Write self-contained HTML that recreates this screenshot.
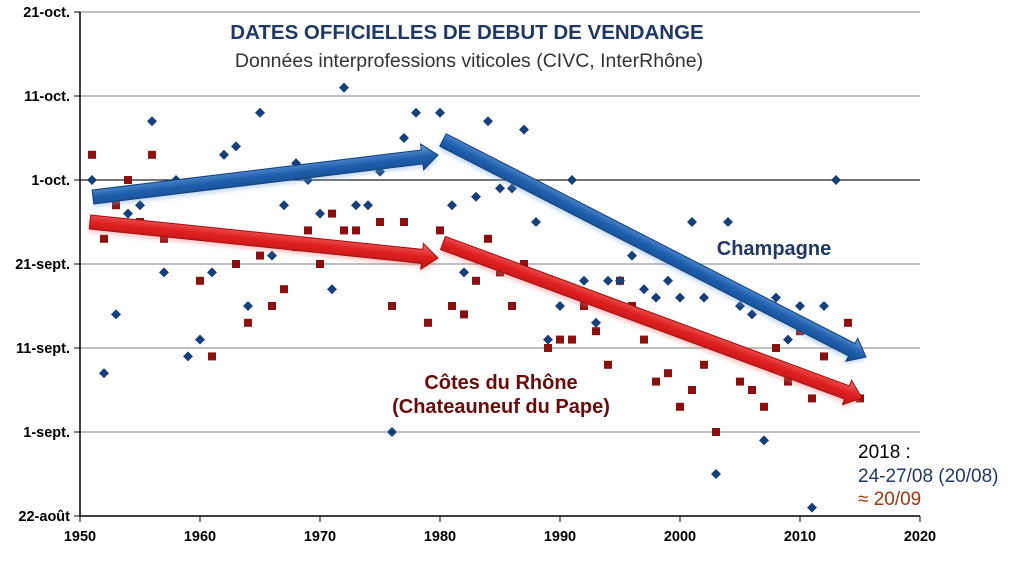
<!DOCTYPE html>
<html><head><meta charset="utf-8"><style>
body{margin:0;background:#fff;}
svg{display:block;font-family:"Liberation Sans",sans-serif;}
</style></head><body>
<svg id="chart" width="1012" height="561" viewBox="0 0 1012 561">
<defs>
<linearGradient id="gb" x1="0" y1="0" x2="0" y2="1"><stop offset="0" stop-color="#6fa3dd"/><stop offset="0.5" stop-color="#1f5fae"/><stop offset="1" stop-color="#144a8c"/></linearGradient>
<linearGradient id="gr" x1="0" y1="0" x2="0" y2="1"><stop offset="0" stop-color="#f07070"/><stop offset="0.5" stop-color="#e02020"/><stop offset="1" stop-color="#b81414"/></linearGradient>
<filter id="glow" x="-10%" y="-50%" width="120%" height="200%"><feGaussianBlur stdDeviation="2.5"/></filter>
</defs>
<g id="grid"></g>
<g id="pts"></g>
<g id="arrows"></g>
<text x="467" y="39" text-anchor="middle" font-size="20.5" font-weight="bold" fill="#1f3864">DATES OFFICIELLES DE DEBUT DE VENDANGE</text>
<text x="469" y="67" text-anchor="middle" font-size="19.5" fill="#333">Données interprofessions viticoles (CIVC, InterRhône)</text>
<text x="774" y="255" text-anchor="middle" font-size="20" font-weight="bold" fill="#1f3864">Champagne</text>
<text x="501" y="389" text-anchor="middle" font-size="20" font-weight="bold" fill="#6b0a0a">Côtes du Rhône</text>
<text x="501" y="413" text-anchor="middle" font-size="20" font-weight="bold" fill="#6b0a0a">(Chateauneuf du Pape)</text>
<text x="858" y="458" font-size="19" fill="#000">2018 :</text>
<text x="858" y="482" font-size="19" fill="#1f3864">24-27/08 (20/08)</text>
<text x="858" y="505" font-size="19" fill="#a0360e">≈ 20/09</text>
</svg>
<script>
const years=[];for(let y=1951;y<=2015;y++)years.push(y);
const champagne=[40,17,24,36,37,47,29,40,19,21,29,43,44,25,48,31,37,42,40,36,27,51,37,37,41,10,45,48,null,48,37,29,38,47,39,39,46,35,21,25,40,28,23,28,28,31,27,26,28,26,35,26,5,35,25,24,9,26,21,25,1,25,40,null,null];
const rhone=[43,33,37,40,35,43,33,null,null,28,19,null,30,23,31,25,27,32,34,30,36,34,34,null,35,25,35,null,23,34,25,24,28,33,29,25,30,null,20,21,21,25,22,18,28,25,21,16,17,13,15,18,10,null,16,15,13,20,16,22,14,19,21,23,14];
const yLabels=["22-août","1-sept.","11-sept.","21-sept.","1-oct.","11-oct.","21-oct."];
const xTicks=[1950,1960,1970,1980,1990,2000,2010,2020];
const NS="http://www.w3.org/2000/svg";
const X=v=>80+(v-1950)*12;
const Y=d=>516-d*8.4;
function mk(t,a,p){const e=document.createElementNS(NS,t);for(const k in a)e.setAttribute(k,a[k]);p.appendChild(e);return e;}
const grid=document.getElementById('grid');
yLabels.forEach((l,i)=>{const y=Y(i*10);
 if(i>0){const g=mk('line',{x1:80,x2:920,y1:y,y2:y,stroke:i==4?'#222':'#999','stroke-width':1.2},grid);
 }
 mk('line',{x1:74,x2:80,y1:y,y2:y,stroke:'#000'},grid);
 const t=mk('text',{x:70,y:y+5,'text-anchor':'end','font-size':14.5,'font-weight':'bold',fill:'#000'},grid);t.textContent=l;
 });
xTicks.forEach(v=>{const x=X(v);mk('line',{x1:x,x2:x,y1:516,y2:522,stroke:'#000'},grid);
 const t=mk('text',{x:x,y:541,'text-anchor':'middle','font-size':14.5,'font-weight':'bold',fill:'#000'},grid);t.textContent=v;
 });
const ax=mk('path',{d:'M80 12V516H920',stroke:'#000','stroke-width':1.5,fill:'none'},grid);

const pts=document.getElementById('pts');
years.forEach((yr,i)=>{
 if(rhone[i]!=null){const r=mk('rect',{x:X(yr)-4,y:Y(rhone[i])-4,width:8,height:8,fill:'#8b1010'},pts);
  }
 if(champagne[i]!=null){const x=X(yr),y=Y(champagne[i]);
  const d=mk('path',{d:`M${x} ${y-5}L${x+5} ${y}L${x} ${y+5}L${x-5} ${y}Z`,fill:'#17407a'},pts);
  }
});
const arrows=document.getElementById('arrows');
function arrow(x1,y1,x2,y2,fill,glow,name){
 const a=Math.atan2(y2-y1,x2-x1)*180/Math.PI,L=Math.hypot(x2-x1,y2-y1);
 const g=mk('g',{transform:`translate(${x1},${y1}) rotate(${a})`},arrows);
 
 const sh=`M0 -7H${L-16}V-13L${L} 0L${L-16} 13V7H0Z`;
 mk('path',{d:sh,fill:glow,opacity:0.45,filter:'url(#glow)',transform:'translate(0,3)'},g);
 mk('path',{d:sh,fill:fill,stroke:glow=='#6fa3dd'?'#123f78':'#a01010','stroke-width':1},g);
}
arrow(93,197,438,155,'url(#gb)','#6fa3dd','champagne-trend-arrow-1');
arrow(443,140,866,357,'url(#gb)','#6fa3dd','champagne-trend-arrow-2');
arrow(90,222,438,258,'url(#gr)','#f07070','rhone-trend-arrow-1');
arrow(443,243,862,398,'url(#gr)','#f07070','rhone-trend-arrow-2');
</script>
</body></html>
